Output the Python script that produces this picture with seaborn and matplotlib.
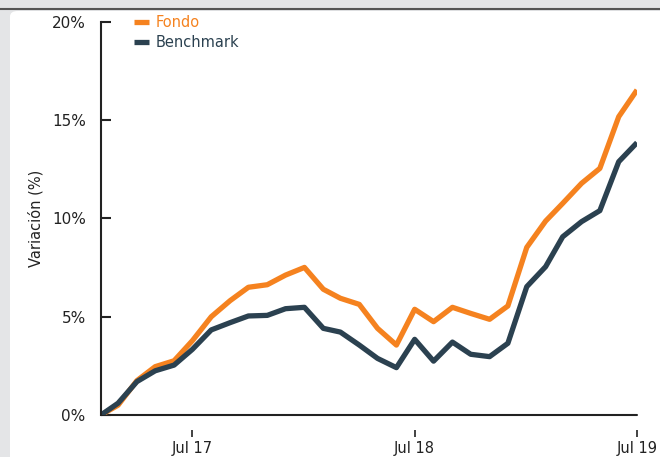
import pandas as pd
import matplotlib.pyplot as plt
import seaborn as sns
import matplotlib.dates as mdates
from matplotlib.patches import FancyBboxPatch
from matplotlib.lines import Line2D
from matplotlib.ticker import FuncFormatter

# datos mensuales (feb 2017 - jul 2019), variación acumulada en %
fechas = pd.date_range('2017-02-01', '2019-07-01', freq='MS')
fondo = [0.0, 0.5, 1.75, 2.46, 2.76, 3.78, 5.0, 5.82, 6.5, 6.63,
         7.12, 7.51, 6.4, 5.94, 5.63, 4.41, 3.56, 5.38, 4.75, 5.48,
         5.17, 4.87, 5.55, 8.53, 9.87, 10.77, 11.79, 12.55, 15.18, 16.54]
benchmark = [0.0, 0.6, 1.7, 2.25, 2.54, 3.34, 4.33, 4.7, 5.04, 5.07,
             5.41, 5.48, 4.41, 4.22, 3.56, 2.88, 2.41, 3.85, 2.74, 3.71,
             3.09, 2.97, 3.65, 6.53, 7.55, 9.07, 9.84, 10.4, 12.89, 13.86]
series = ['Fondo', 'Benchmark']
colores = ['#f5821f', '#2b4150']

df = pd.DataFrame({'Fecha': list(fechas) * 2,
                   'Variacion': fondo + benchmark,
                   'Serie': ['Fondo'] * len(fondo) + ['Benchmark'] * len(benchmark)})

sns.set_theme(style='white')
plt.rcParams['font.family'] = ['DejaVu Sans']

fig = plt.figure(figsize=(6.6, 4.57), dpi=100)
fig.patch.set_facecolor('#e4e5e7')

# tarjeta blanca de fondo
card_top = 1 - 11 / 457
card = FancyBboxPatch((10 / 660, -0.05), 1.0, card_top + 0.05, transform=fig.transFigure,
                      boxstyle='round,pad=0,rounding_size=0.012', fc='white', ec='none',
                      zorder=-5)
fig.add_artist(card)
fig.add_artist(Line2D([0, 1], [1 - 8.5 / 457] * 2, transform=fig.transFigure,
                      color='#555555', lw=1.5, zorder=-4))

ax = fig.add_axes([101 / 660, 42 / 457, 536 / 660, 393 / 457])
ax.set_facecolor('none')
ax.set_zorder(2)

sns.lineplot(data=df, x='Fecha', y='Variacion', hue='Serie', hue_order=series,
             palette=colores, linewidth=3.8, ax=ax, legend=False)
for ln in ax.get_lines():
    ln.set_solid_capstyle('butt')

ax.set_xlim(fechas[0], fechas[-1])
ax.set_ylim(0, 20)
ax.set_yticks([0, 5, 10, 15, 20])
ax.yaxis.set_major_formatter(FuncFormatter(lambda v, p: f'{v:.0f}%'))
ax.xaxis.set_major_locator(mdates.MonthLocator(bymonth=7))
ax.xaxis.set_major_formatter(mdates.DateFormatter('%b %y'))

for s in ['top', 'right']:
    ax.spines[s].set_visible(False)
ax.spines['left'].set_color('#222222')
ax.spines['left'].set_linewidth(1.5)
ax.spines['bottom'].set_position(('outward', 11))
ax.spines['bottom'].set_visible(False)
ax.axhline(0, color='#222222', lw=1.5, clip_on=False, zorder=1)

ax.tick_params(axis='y', direction='in', length=7, width=1.5, color='#222222',
               labelsize=11, labelcolor='#222222', pad=11, left=True)
ax.tick_params(axis='x', direction='out', length=5, width=1.2, color='#222222',
               labelsize=10.5, labelcolor='#222222', pad=3, bottom=True)
ax.set_xlabel('')
ax.set_ylabel('Variación (%)', fontsize=10.5, color='#222222', labelpad=6)

handles = [Line2D([], [], color=c, lw=3.8, solid_capstyle='butt') for c in colores]
leg = ax.legend(handles, series, loc='upper left', bbox_to_anchor=(0.051, 1.033),
                frameon=False, fontsize=10.5, handlelength=1.05, handletextpad=0.45,
                labelspacing=0.38, borderaxespad=0)
for t, c in zip(leg.get_texts(), colores):
    t.set_color(c)

fig.savefig('out.png', dpi=100, facecolor=fig.get_facecolor())
